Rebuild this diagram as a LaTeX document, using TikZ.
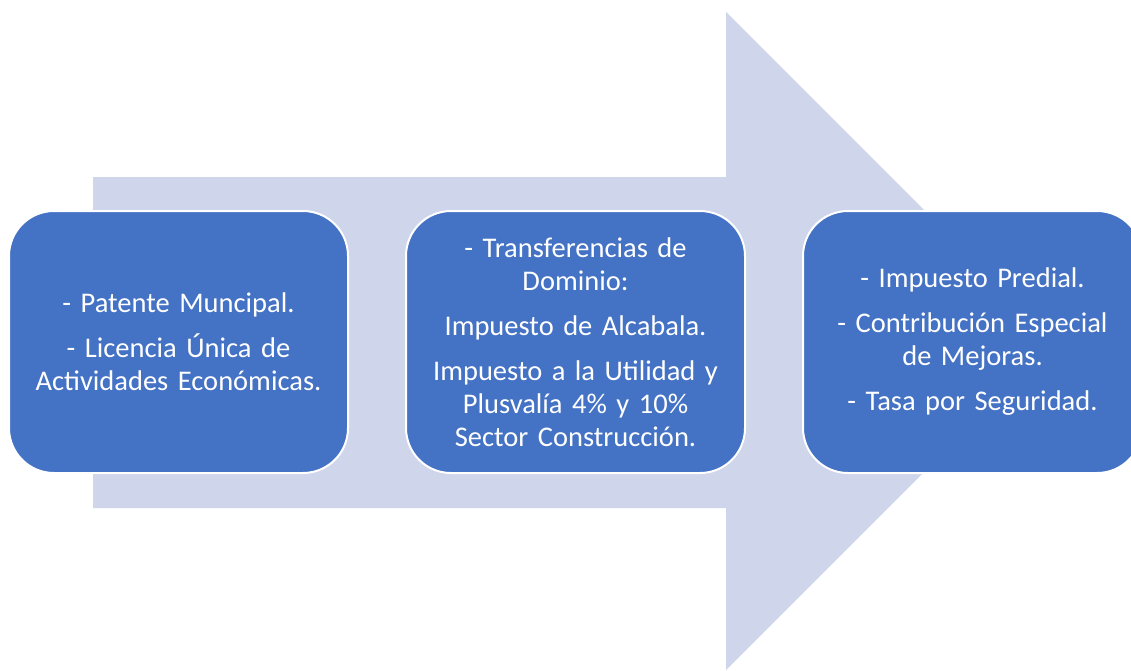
\documentclass[tikz,border=0pt]{standalone}
\usepackage{fontspec}
\setmainfont{Carlito}
\usetikzlibrary{positioning}
\definecolor{arrowfill}{HTML}{CFD5EA}
\definecolor{boxfill}{HTML}{4472C4}
\tikzset{box/.style={draw=white,line width=2pt,fill=boxfill,rectangle,rounded corners=45pt,minimum width=339pt,minimum height=262pt,text width=320pt,align=center,text=white,font=\fontsize{28.5pt}{33pt}\selectfont}}

\begin{document}
\begin{tikzpicture}[x=1pt,y=-1pt]
\useasboundingbox (0,0) rectangle (1131,670);
\fill[arrowfill] (93,177)--(726,177)--(726,12)--(1055,341)--(726,670)--(726,508)--(93,508)--cycle;
\node[box] (b1) at (178.5,342) {- Patente Muncipal.\\[12pt]
- Licencia Única de\\
Actividades Económicas.};
\node[box,right=56pt of b1] (b2) {- Transferencias de\\
Dominio:\\[12pt]
Impuesto de Alcabala.\\[12pt]
Impuesto a la Utilidad y\\
Plusvalía 4\% y 10\%\\
Sector Construcción.};
\node[box,right=56pt of b2] (b3) {- Impuesto Predial.\\[12pt]
- Contribución Especial\\
de Mejoras.\\[12pt]
- Tasa por Seguridad.};
\end{tikzpicture}
\end{document}
